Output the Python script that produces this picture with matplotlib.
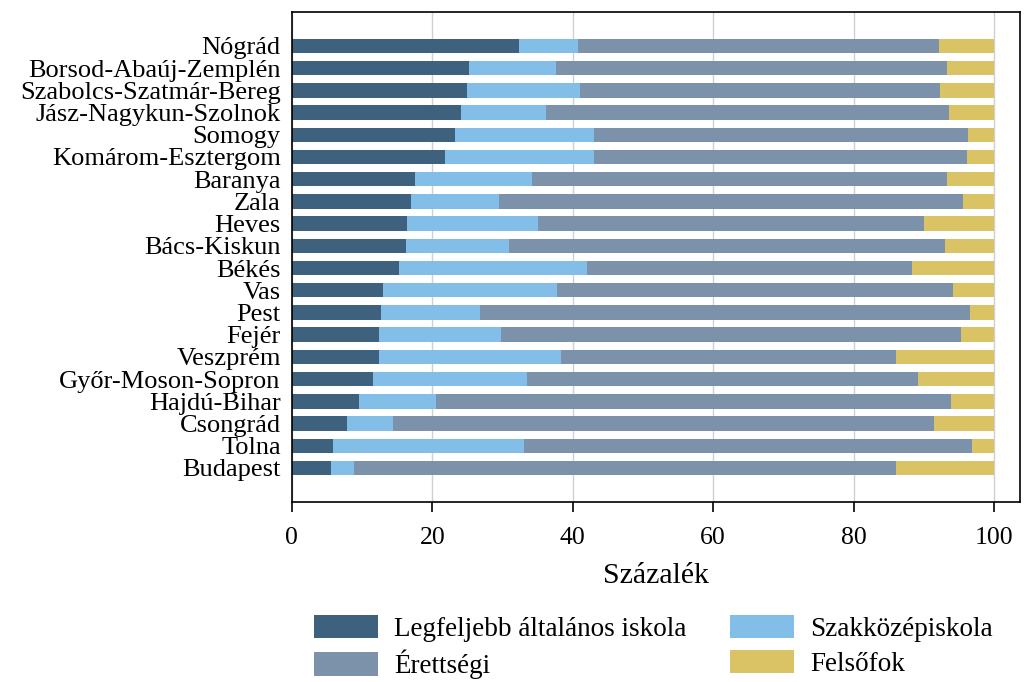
import numpy as np
import matplotlib.pyplot as plt

plt.rcParams['font.family'] = ['Liberation Serif', 'DejaVu Serif']

# counties, top to bottom as in the chart
megyek = ["Nógrád", "Borsod-Abaúj-Zemplén", "Szabolcs-Szatmár-Bereg",
          "Jász-Nagykun-Szolnok", "Somogy", "Komárom-Esztergom", "Baranya",
          "Zala", "Heves", "Bács-Kiskun", "Békés", "Vas", "Pest", "Fejér",
          "Veszprém", "Győr-Moson-Sopron", "Hajdú-Bihar", "Csongrád",
          "Tolna", "Budapest"]

# share of each education level (percent)
altalanos = [32.3, 25.3, 24.9, 24.1, 23.3, 21.8, 17.5, 17.0, 16.4, 16.3,
             15.2, 13.0, 12.7, 12.4, 12.4, 11.6, 9.6, 7.8, 5.9, 5.6]
szakkozep = [8.5, 12.3, 16.1, 12.1, 19.7, 21.3, 16.7, 12.5, 18.6, 14.7,
             26.8, 24.8, 14.1, 17.4, 25.9, 21.9, 11.0, 6.6, 27.2, 3.2]
erettsegi = [51.4, 55.7, 51.3, 57.4, 53.3, 53.0, 59.1, 66.1, 55.0, 62.0,
             46.4, 56.3, 69.8, 65.5, 47.7, 55.7, 73.3, 77.0, 63.8, 77.3]
felsofok = [7.8, 6.7, 7.7, 6.4, 3.7, 3.9, 6.7, 4.4, 10.0, 7.0,
            11.6, 5.9, 3.4, 4.7, 14.0, 10.8, 6.1, 8.6, 3.1, 13.9]

series = [
    ("Legfeljebb általános iskola", altalanos, "#3e627d"),
    ("Érettségi", erettsegi, "#7b92aa"),
    ("Szakközépiskola", szakkozep, "#82bee8"),
    ("Felsőfok", felsofok, "#d9c364"),
]
stack_order = [0, 2, 1, 3]  # bars are stacked: általános, szakközép, érettségi, felsőfok

fig = plt.figure(figsize=(10.24, 6.82), dpi=100)
ax = fig.add_axes([0.285, 0.264, 0.711, 0.7185])

y = np.arange(len(megyek))[::-1]
left = np.zeros(len(megyek))
handles = {}
for i in stack_order:
    name, vals, col = series[i]
    vals = np.array(vals)
    h = ax.barh(y, vals, left=left, height=0.65, color=col, label=name, zorder=2)
    handles[i] = h
    left += vals

ax.set_yticks(y)
ax.set_yticklabels(megyek, fontsize=19)
ax.tick_params(axis='y', length=0, pad=8)
ax.set_xlim(0, 103.7)
ax.set_ylim(-1.53, len(megyek) - 1 + 1.53)
ax.set_xticks([0, 20, 40, 60, 80, 100])
ax.tick_params(axis='x', labelsize=18.5, length=7, width=1.2, direction='out', pad=11)
ax.grid(axis='x', color='#d0d0d0', linewidth=1, zorder=0)
ax.set_axisbelow(True)
for s in ax.spines.values():
    s.set_linewidth(1.2)
    s.set_color('black')
ax.set_xlabel("Százalék", fontsize=21.5, labelpad=10)

fig.legend([handles[i] for i in range(4)], [series[i][0] for i in range(4)],
           loc='center', bbox_to_anchor=(0.638, 0.0513), ncol=2,
           frameon=False, fontsize=19.5, handlelength=2.37, handleheight=0.96,
           handletextpad=0.6, columnspacing=1.6, labelspacing=0.3,
           borderpad=0, borderaxespad=0)

plt.savefig("out.png", dpi=100)
